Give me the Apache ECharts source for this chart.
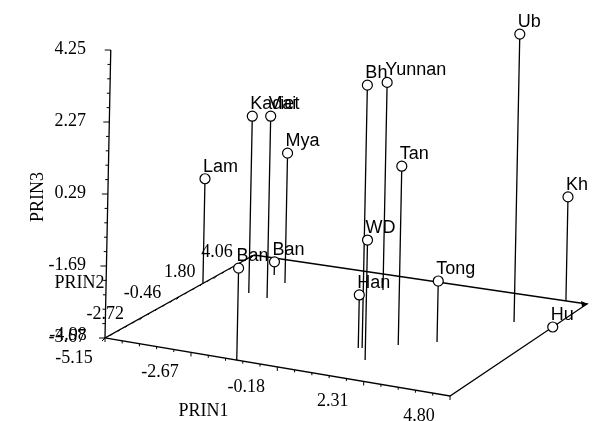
<!DOCTYPE html>
<html><head><meta charset="utf-8">
<script src="https://cdn.jsdelivr.net/npm/echarts@6/dist/echarts.min.js"></script>
<style>html,body{margin:0;padding:0;background:#fff}#c{width:609px;height:421px}</style>
</head><body><div id="c"></div>
<script>
// ---- data ----
const CATEGORIES = ['Lam','Kadai','Viet','Mya','Ban','Ban','Bh','WD','Han','Yunnan','Tan','Tong','Ub','Kh','Hu'];
const PRIN1 = [-5.15,-3.70,-3.07,-3.26,-3.84,-1.35, 1.06, 1.57, 0.97,-0.66, 1.79, 2.59, 3.69, 4.17, 4.80];
const PRIN2 = [ 0.96, 0.76, 0.57, 2.07, 2.61,-4.98,-2.31,-3.24,-2.36, 2.72,-1.60,-0.86, 1.72, 4.06, 1.80];
const PRIN3 = [-0.79, 1.19, 1.33,-0.10,-3.31,-1.14, 3.56,-0.37,-2.21, 2.04, 1.25,-1.99, 4.25,-0.81,-3.67];
const PRIN1_TICKS = [-5.15,-2.67,-0.18,2.31,4.80];
const PRIN2_TICKS = [-4.98,-2.72,-0.46,1.80,4.06];
const PRIN3_TICKS = [-3.67,-1.69,0.29,2.27,4.25];
const AXIS_NAMES = ['PRIN1','PRIN2','PRIN3'];

// ---- view layout (oblique projection of the 3D box) ----
const W = 609, H = 421;
const FLOOR = {A:[105,338], B:[450,396], D:[254,255], C:[587,304]};
const Z_PX = 36.36, SHEAR = 0.02;
const SERIF = '18px "Liberation Serif", "Times New Roman", serif';
const SANS = '18px "Liberation Sans", Arial, sans-serif';

const r1 = [PRIN1_TICKS[0], PRIN1_TICKS[PRIN1_TICKS.length-1]];
const r2 = [PRIN2_TICKS[0], PRIN2_TICKS[PRIN2_TICKS.length-1]];
const r3 = [PRIN3_TICKS[0], PRIN3_TICKS[PRIN3_TICKS.length-1]];

function project(p1, p2, p3){
  const s = (p1 - r1[0]) / (r1[1] - r1[0]);
  const t = (p2 - r2[0]) / (r2[1] - r2[0]);
  const {A,B,C,D} = FLOOR;
  const x = A[0] + s*(B[0]-A[0]) + t*(D[0]-A[0]) + s*t*(C[0]-B[0]-D[0]+A[0]);
  const y = A[1] + s*(B[1]-A[1]) + t*(D[1]-A[1]) + s*t*(C[1]-B[1]-D[1]+A[1]);
  const h = (p3 - r3[0]) * Z_PX;
  return [x + SHEAR*h, y - h];
}

const LS = {stroke:'#000', lineWidth:1.3};
function seg(a, b, w){ return {type:'line', shape:{x1:a[0],y1:a[1],x2:b[0],y2:b[1]}, style:{stroke:'#000', lineWidth:w||1.3}}; }
function txt(x, y, s, font, align, valign, rot){
  const e = {type:'text', x:x, y:y, style:{text:s, font:font, fill:'#000', align:align, verticalAlign:valign}};
  if (rot) e.rotation = rot;
  return e;
}
function subdiv(ticks){
  const out = [];
  for (let i=0;i<ticks.length-1;i++){
    for (let k=0;k<5;k++) out.push({v: ticks[i] + k*(ticks[i+1]-ticks[i])/5, major: k===0});
  }
  out.push({v: ticks[ticks.length-1], major:true});
  return out;
}

function renderFrame(params, api){
  const P = (a,b,c) => api.coord(project(a,b,c));
  const A = P(r1[0],r2[0],r3[0]), B = P(r1[1],r2[0],r3[0]);
  const C = P(r1[1],r2[1],r3[0]), D = P(r1[0],r2[1],r3[0]);
  const T = P(r1[0],r2[0],r3[1]);
  const ch = [];
  ch.push({type:'polyline', shape:{points:[D,A,B,C,D]}, style:{stroke:'#000', lineWidth:1.3, fill:null}});
  ch.push(seg(A,T));
  // small arrow head at far corner
  ch.push({type:'polygon', shape:{points:[[C[0]+1,C[1]],[C[0]-6,C[1]-3],[C[0]-5,C[1]+3]]}, style:{fill:'#000'}});
  // PRIN1 ticks
  subdiv(PRIN1_TICKS).forEach(o => { const p = P(o.v, r2[0], r3[0]); ch.push(seg(p,[p[0],p[1]+(o.major?4:2.5)],1)); });
  PRIN1_TICKS.forEach(v => { const p = P(v, r2[0], r3[0]); ch.push(txt(p[0]-31, p[1]+20, v.toFixed(2), SERIF, 'center','middle')); });
  // PRIN2 ticks
  subdiv(PRIN2_TICKS).forEach(o => { const p = P(r1[0], o.v, r3[0]); ch.push(seg(p,[p[0]-(o.major?3:2),p[1]+(o.major?3:2)],1)); });
  PRIN2_TICKS.forEach(v => { const p = P(r1[0], v, r3[0]); ch.push(txt(p[0]-37, p[1]-3, v.toFixed(2), SERIF, 'center','middle')); });
  // PRIN3 ticks
  subdiv(PRIN3_TICKS).forEach(o => { const p = P(r1[0], r2[0], o.v); ch.push(seg(p,[p[0]-(o.major?6:3),p[1]],1)); });
  PRIN3_TICKS.forEach(v => { const p = P(r1[0], r2[0], v); ch.push(txt(A[0]-19, p[1]-1, v.toFixed(2), SERIF, 'right','middle')); });
  // axis names
  const m1 = P((r1[0]+r1[1])/2, r2[0], r3[0]);
  ch.push(txt(m1[0]-74, m1[1]+44, AXIS_NAMES[0], SERIF, 'center','middle'));
  const m2 = P(r1[0], (r2[0]+r2[1])/2, r3[0]);
  ch.push(txt(m2[0]-100, m2[1]-13, AXIS_NAMES[1], SERIF, 'center','middle'));
  const m3 = P(r1[0], r2[0], (r3[0]+r3[1])/2);
  ch.push(txt(m3[0]-70, m3[1]+3, AXIS_NAMES[2], SERIF, 'center','middle', Math.PI/2));
  return {type:'group', children:ch};
}

function renderNeedle(params, api){
  const a = api.value(0), b = api.value(1), c = api.value(2);
  const base = api.coord(project(a, b, r3[0]));
  const top = api.coord(project(a, b, c));
  return seg(base, top, 1.3);
}

function renderMarker(params, api){
  const a = api.value(0), b = api.value(1), c = api.value(2);
  const top = api.coord(project(a, b, c));
  return {type:'group', children:[
    {type:'circle', shape:{cx:top[0], cy:top[1], r:5}, style:{fill:'#fff', stroke:'#000', lineWidth:1.2}},
    txt(top[0]-2, top[1]-3, CATEGORIES[params.dataIndex], SANS, 'left','bottom')
  ]};
}

const pointData = CATEGORIES.map((n,i) => [PRIN1[i], PRIN2[i], PRIN3[i]]);

const chart = echarts.init(document.getElementById('c'), null, {renderer:'canvas'});
chart.setOption({
  backgroundColor:'#fff',
  animation:false,
  grid:{left:0, right:0, top:0, bottom:0},
  xAxis:{type:'value', min:0, max:W, show:false},
  yAxis:{type:'value', min:0, max:H, inverse:true, show:false},
  series:[
    {type:'custom', name:'frame', data:[[0,0,0]], renderItem:renderFrame, clip:false, silent:true, z:1},
    {type:'custom', name:'needles', data:pointData, renderItem:renderNeedle, clip:false, silent:true, z:2, encode:{x:-1,y:-1}},
    {type:'custom', name:'points', data:pointData, renderItem:renderMarker, clip:false, silent:true, z:3, encode:{x:-1,y:-1}}
  ]
});
</script></body></html>
